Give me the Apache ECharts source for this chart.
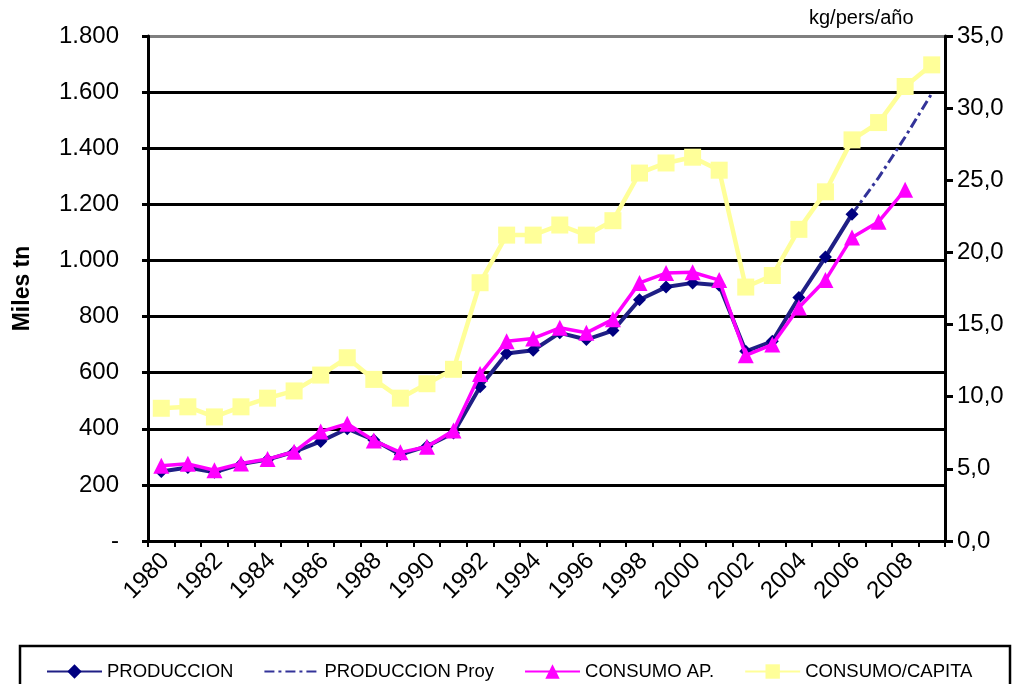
<!DOCTYPE html>
<html>
<head>
<meta charset="utf-8">
<script src="https://cdn.jsdelivr.net/npm/echarts@6/dist/echarts.min.js"></script>
<style>
html,body{margin:0;padding:0;background:#fff;}
#c{width:1017px;height:684px;}
</style>
</head>
<body>
<div id="c"></div>
<script>
const years = ['1980','1981','1982','1983','1984','1985','1986','1987','1988','1989','1990','1991','1992','1993','1994','1995','1996','1997','1998','1999','2000','2001','2002','2003','2004','2005','2006','2007','2008','2009'];
const produccion = [248, 262, 245, 274, 290, 318, 355, 400, 360, 308, 338, 385, 550, 668, 680, 742, 718, 750, 860, 905, 920, 912, 676, 712, 868, 1012, 1165, null, null, null];
const produccionProy = [null, null, null, null, null, null, null, null, null, null, null, null, null, null, null, null, null, null, null, null, null, null, null, null, null, null, 1165, 1295, 1440, 1595];
const consumoAp = [268, 275, 252, 276, 292, 318, 390, 418, 358, 316, 336, 394, 595, 712, 722, 760, 742, 790, 920, 955, 958, 930, 662, 700, 832, 930, 1082, 1138, 1252, null];
const consumoCapita = [9.2, 9.3, 8.6, 9.3, 9.9, 10.4, 11.5, 12.7, 11.2, 9.9, 10.9, 11.9, 17.9, 21.2, 21.2, 21.9, 21.2, 22.2, 25.5, 26.2, 26.6, 25.7, 17.6, 18.4, 21.6, 24.2, 27.8, 29.0, 31.5, 33.0];
const seriesNames = ['PRODUCCION', 'PRODUCCION Proy', 'CONSUMO AP.', 'CONSUMO/CAPITA'];
const leftAxisName = 'Miles tn';
const rightAxisUnit = 'kg/pers/año';

const FONT = '"Liberation Sans", Arial, sans-serif';
const chart = echarts.init(document.getElementById('c'), null, {renderer: 'canvas'});

const splitColors = ['#000','#000','#000','#000','#000','#000','#000','#000','#000','#808080'];

chart.setOption({
  animation: false,
  backgroundColor: '#fff',
  textStyle: {fontFamily: FONT, color: '#000'},
  grid: {left: 148, right: 72, top: 36, bottom: 143, containLabel: false},
  graphic: [
    {type: 'rect', z: 0, shape: {x: 20, y: 646, width: 990, height: 60},
     style: {fill: '#fff', stroke: '#000', lineWidth: 2.5}},
    {type: 'text', left: 809, top: 8, style: {text: rightAxisUnit, font: '20px ' + FONT, fill: '#000'}}
  ],
  legend: {
    left: 41, top: 657, itemWidth: 55, itemHeight: 18, itemGap: 30,
    textStyle: {fontSize: 18.5, fontFamily: FONT, color: '#000'},
    data: [
      {name: seriesNames[0]},
      {name: seriesNames[1], itemStyle: {opacity: 0}},
      {name: seriesNames[2]},
      {name: seriesNames[3]}
    ], z: 5
  },
  xAxis: {
    type: 'category', data: years, boundaryGap: true,
    axisLine: {show: true, lineStyle: {color: '#000', width: 3}},
    axisTick: {show: true, interval: 0, length: 6, lineStyle: {color: '#000', width: 2}},
    axisLabel: {interval: 1, rotate: 45, fontSize: 24, margin: 12, verticalAlign: 'top', lineHeight: 12,
      color: '#000', fontFamily: FONT},
    splitLine: {show: false}
  },
  yAxis: [
    {
      type: 'value', min: 0, max: 1800, interval: 200, position: 'left',
      name: leftAxisName, nameLocation: 'middle', nameRotate: 90, nameGap: 114,
      nameTextStyle: {fontSize: 23, fontWeight: 'bold', fontFamily: FONT, color: '#000'},
      axisLine: {show: true, lineStyle: {color: '#000', width: 3}},
      axisTick: {show: true, length: 6, lineStyle: {color: '#000', width: 3}},
      axisLabel: {fontSize: 24, margin: 29, color: '#000', fontFamily: FONT,
        formatter: v => v === 0 ? '-' : (v >= 1000 ? Math.floor(v/1000) + '.' + String(v%1000).padStart(3,'0') : String(v))},
      splitLine: {show: true, lineStyle: {color: splitColors, width: 3}}
    },
    {
      type: 'value', min: 0, max: 35, interval: 5, position: 'right',
      axisLine: {show: true, lineStyle: {color: '#000', width: 3}},
      axisTick: {show: true, length: 8, lineStyle: {color: '#000', width: 3}},
      axisLabel: {fontSize: 24, margin: 12, color: '#000', fontFamily: FONT,
        formatter: v => v.toFixed(1).replace('.', ',')},
      splitLine: {show: false}
    }
  ],
  series: [
    {name: seriesNames[0], type: 'line', yAxisIndex: 0, data: produccion,
     symbol: 'diamond', symbolSize: 13, showAllSymbol: true,
     lineStyle: {color: '#1f1f85', width: 4}, itemStyle: {color: '#000080'}, z: 3},
    {name: seriesNames[1], type: 'line', yAxisIndex: 0, data: produccionProy,
     symbol: 'none', lineStyle: {color: '#333399', width: 3, type: [10, 4, 3, 4]},
     itemStyle: {color: '#333399'}, z: 2},
    {name: seriesNames[2], type: 'line', yAxisIndex: 0, data: consumoAp,
     symbol: 'triangle', symbolSize: 16, showAllSymbol: true,
     lineStyle: {color: '#ff00ff', width: 3.5}, itemStyle: {color: '#ff00ff'}, z: 4},
    {name: seriesNames[3], type: 'line', yAxisIndex: 1, data: consumoCapita,
     symbol: 'rect', symbolSize: 17, showAllSymbol: true,
     lineStyle: {color: '#ffff99', width: 4.5}, itemStyle: {color: '#ffff99'}, z: 1}
  ]
});
</script>
</body>
</html>
